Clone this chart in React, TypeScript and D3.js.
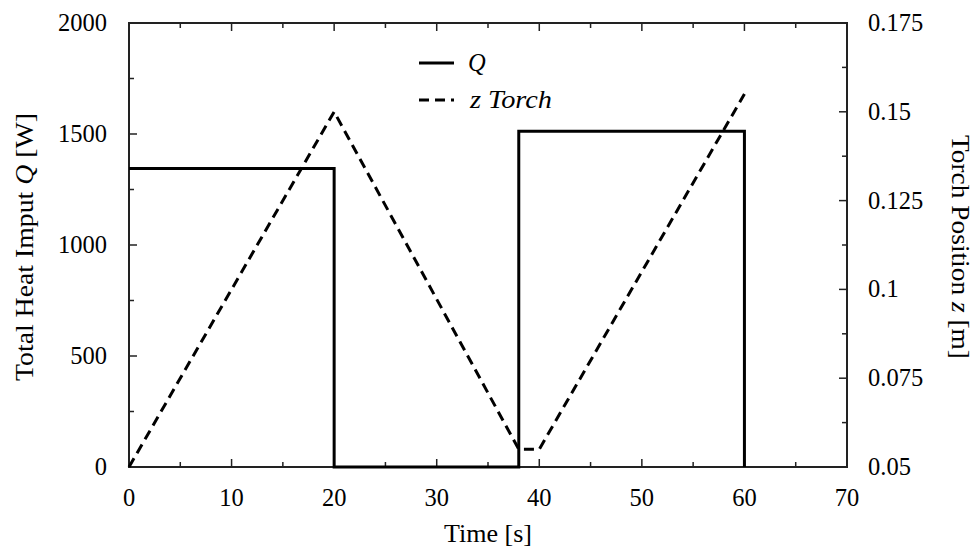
import React from "react";
import * as d3 from "d3";

// Total heat input Q [W] over time (step profile)
const qTime = [0, 20, 20, 38, 38, 60, 60];
const qValue = [1345, 1345, 0, 0, 1512, 1512, 0];

// Torch position z [m] over time
const zTime = [0, 20, 38, 40, 60];
const zValue = [0.05, 0.15, 0.055, 0.055, 0.155];

const xTicks = [0, 10, 20, 30, 40, 50, 60, 70];
const yLeftTicks = [0, 500, 1000, 1500, 2000];
const yRightTicks = [0.05, 0.075, 0.1, 0.125, 0.15, 0.175];
const yRightLabels = ["0.05", "0.075", "0.1", "0.125", "0.15", "0.175"];

const W = 974;
const H = 549;
const M = { left: 129, right: 847, top: 23, bottom: 467 };
const FONT = "'Liberation Serif', 'Times New Roman', serif";
const FS = 24.5;

export default function App() {
  const x = d3.scaleLinear().domain([0, 70]).range([M.left, M.right]);
  const yL = d3.scaleLinear().domain([0, 2000]).range([M.bottom, M.top]);
  const yR = d3.scaleLinear().domain([0.05, 0.175]).range([M.bottom, M.top]);

  const qLine = d3
    .line<number>()
    .x((_, i) => x(qTime[i]))
    .y((d) => yL(d));
  const zLine = d3
    .line<number>()
    .x((_, i) => x(zTime[i]))
    .y((d) => yR(d));

  const xMinor = d3.range(5, 70, 10);
  const yLMinor = d3.range(250, 2000, 500);
  const yRMinor = d3.range(0.0625, 0.175, 0.025);

  const axisColor = "#222";
  const major = 8;
  const minor = 5;
  const midY = (M.top + M.bottom) / 2 + 2;

  return (
    <svg width={W} height={H} style={{ display: "block", position: "absolute", left: 0, top: 0 }}>
      <rect width={W} height={H} fill="#fff" />

      {/* x ticks, bottom and top, pointing inward */}
      {xTicks.map((t) => (
        <g key={"xt" + t}>
          <line x1={x(t)} x2={x(t)} y1={M.bottom} y2={M.bottom - major} stroke={axisColor} strokeWidth={1.5} />
          <line x1={x(t)} x2={x(t)} y1={M.top} y2={M.top + major} stroke={axisColor} strokeWidth={1.5} />
          <text x={x(t)} y={506} textAnchor="middle" fontFamily={FONT} fontSize={FS} fill="#000">
            {t}
          </text>
        </g>
      ))}
      {xMinor.map((t) => (
        <g key={"xm" + t}>
          <line x1={x(t)} x2={x(t)} y1={M.bottom} y2={M.bottom - minor} stroke={axisColor} strokeWidth={1.5} />
          <line x1={x(t)} x2={x(t)} y1={M.top} y2={M.top + minor} stroke={axisColor} strokeWidth={1.5} />
        </g>
      ))}

      {/* left axis ticks */}
      {yLeftTicks.map((t) => (
        <g key={"yl" + t}>
          <line x1={M.left} x2={M.left + major} y1={yL(t)} y2={yL(t)} stroke={axisColor} strokeWidth={1.5} />
          <text x={107} y={yL(t)} dy="0.33em" textAnchor="end" fontFamily={FONT} fontSize={FS} fill="#000">
            {t}
          </text>
        </g>
      ))}
      {yLMinor.map((t) => (
        <line key={"ylm" + t} x1={M.left} x2={M.left + minor} y1={yL(t)} y2={yL(t)} stroke={axisColor} strokeWidth={1.5} />
      ))}

      {/* right axis ticks */}
      {yRightTicks.map((t, i) => (
        <g key={"yr" + t}>
          <line x1={M.right} x2={M.right - major} y1={yR(t)} y2={yR(t)} stroke={axisColor} strokeWidth={1.5} />
          <text x={868} y={yR(t)} dy="0.33em" textAnchor="start" fontFamily={FONT} fontSize={FS} fill="#000">
            {yRightLabels[i]}
          </text>
        </g>
      ))}
      {yRMinor.map((t) => (
        <line key={"yrm" + t} x1={M.right} x2={M.right - minor} y1={yR(t)} y2={yR(t)} stroke={axisColor} strokeWidth={1.5} />
      ))}

      {/* plot frame */}
      <rect
        x={M.left}
        y={M.top}
        width={M.right - M.left}
        height={M.bottom - M.top}
        fill="none"
        stroke={axisColor}
        strokeWidth={2}
      />

      {/* series */}
      <path d={qLine(qValue) || ""} fill="none" stroke="#000" strokeWidth={3} />
      <path d={zLine(zValue) || ""} fill="none" stroke="#000" strokeWidth={3} strokeDasharray="10,6" />

      {/* legend */}
      <line x1={419} x2={454} y1={63} y2={63} stroke="#000" strokeWidth={3} />
      <text x={468} y={63} dy="0.33em" fontFamily={FONT} fontSize={FS} fontStyle="italic" fill="#000">
        Q
      </text>
      <line x1={419} x2={454} y1={100} y2={100} stroke="#000" strokeWidth={3} strokeDasharray="10,6" />
      <text
        x={470}
        y={100}
        dy="0.33em"
        fontFamily={FONT}
        fontSize={FS}
        fontStyle="italic"
        fill="#000"
        textLength={82}
        lengthAdjust="spacingAndGlyphs"
      >
        z Torch
      </text>

      {/* axis titles */}
      <text
        x={(M.left + M.right) / 2}
        y={542}
        textAnchor="middle"
        fontFamily={FONT}
        fontSize={FS}
        fill="#000"
        textLength={88}
        lengthAdjust="spacingAndGlyphs"
      >
        Time [s]
      </text>
      <text
        transform={`translate(33, ${midY}) rotate(-90)`}
        textAnchor="middle"
        fontFamily={FONT}
        fontSize={FS}
        fill="#000"
        textLength={268}
        lengthAdjust="spacingAndGlyphs"
      >
        Total Heat Imput <tspan fontStyle="italic">Q</tspan> [W]
      </text>
      <text
        transform={`translate(952, ${midY}) rotate(90)`}
        textAnchor="middle"
        fontFamily={FONT}
        fontSize={FS}
        fill="#000"
        textLength={224}
        lengthAdjust="spacingAndGlyphs"
      >
        Torch Position <tspan fontStyle="italic">z</tspan> [m]
      </text>
    </svg>
  );
}
